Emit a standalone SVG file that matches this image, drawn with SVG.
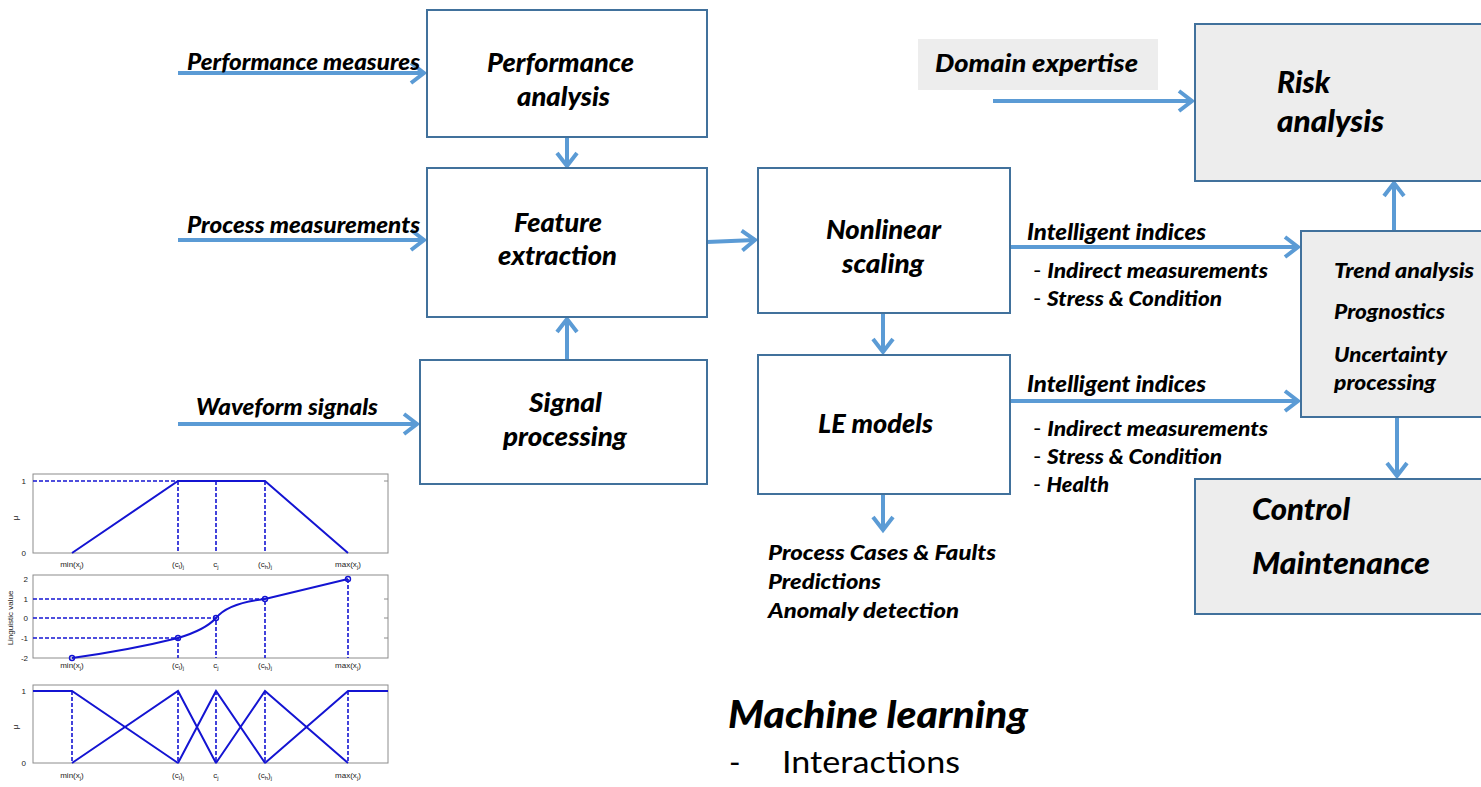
<svg xmlns="http://www.w3.org/2000/svg" width="1481" height="787" viewBox="0 0 1481 787">
  <defs>
    <style>
      .box { fill: #ffffff; stroke: #41719c; stroke-width: 2; }
      .gbox { fill: #ededed; stroke: #41719c; stroke-width: 2; }
      .lbl { font-family: Lato, "Liberation Sans", sans-serif; font-weight: 900; font-style: italic; fill: #000; }
      .plain { font-family: Lato, "Liberation Sans", sans-serif; fill: #000; }
      .conn { fill: none; stroke: #5b9bd5; stroke-width: 4; marker-end: url(#chev); }
      .axis { fill: none; stroke: #8c8c8c; stroke-width: 1; }
      .curve { fill: none; stroke: #1414d2; stroke-width: 2; }
      .dash { fill: none; stroke: #1414d2; stroke-width: 1.6; stroke-dasharray: 4 2; }
      .tick { font-family: "Liberation Sans", Arial, sans-serif; font-size: 8px; fill: #222; }
      .pt { fill: none; stroke: #1414d2; stroke-width: 1.4; }
      .dashmark { font-style: normal; font-weight: normal; }
    </style>
    <marker id="chev" markerUnits="userSpaceOnUse" markerWidth="22" markerHeight="26" viewBox="0 0 22 26" refX="16" refY="13" orient="auto">
      <path d="M3,3 L16,13 L3,23" fill="none" stroke="#5b9bd5" stroke-width="4"/>
    </marker>
  </defs>

  <!-- connectors -->
  <g id="connectors">
    <path class="conn" d="M178,73 H424"/>
    <path class="conn" d="M178,240 H424"/>
    <path class="conn" d="M178,424 H417"/>
    <path class="conn" d="M567,137 V166"/>
    <path class="conn" d="M567,360 V319"/>
    <path class="conn" d="M707,242 L755,240"/>
    <path class="conn" d="M883,313 V352"/>
    <path class="conn" d="M883,494 V530"/>
    <path class="conn" d="M1010,247 H1298"/>
    <path class="conn" d="M1010,401 H1298"/>
    <path class="conn" d="M1394,231 V183"/>
    <path class="conn" d="M1397,416 V476"/>
    <path class="conn" d="M993,101 H1192"/>
  </g>

  <!-- edge labels -->
  <g id="edge-labels">
    <text class="lbl" x="187" y="70" font-size="22.5" textLength="233" lengthAdjust="spacingAndGlyphs">Performance measures</text>
    <text class="lbl" x="187" y="233" font-size="22.5" textLength="233" lengthAdjust="spacingAndGlyphs">Process measurements</text>
    <text class="lbl" x="196" y="415" font-size="22.5" textLength="182" lengthAdjust="spacingAndGlyphs">Waveform signals</text>
    <text class="lbl" x="1027" y="240" font-size="22.5" textLength="179" lengthAdjust="spacingAndGlyphs">Intelligent indices</text>
    <text class="lbl" x="1033" y="278" font-size="20.5" textLength="235" lengthAdjust="spacingAndGlyphs"><tspan class="dashmark">- </tspan>Indirect measurements</text>
    <text class="lbl" x="1033" y="306" font-size="20.5" textLength="189" lengthAdjust="spacingAndGlyphs"><tspan class="dashmark">- </tspan>Stress &amp; Condition</text>
    <text class="lbl" x="1027" y="392" font-size="22.5" textLength="179" lengthAdjust="spacingAndGlyphs">Intelligent indices</text>
    <text class="lbl" x="1033" y="436" font-size="20.5" textLength="235" lengthAdjust="spacingAndGlyphs"><tspan class="dashmark">- </tspan>Indirect measurements</text>
    <text class="lbl" x="1033" y="464" font-size="20.5" textLength="189" lengthAdjust="spacingAndGlyphs"><tspan class="dashmark">- </tspan>Stress &amp; Condition</text>
    <text class="lbl" x="1033" y="492" font-size="20.5" textLength="76" lengthAdjust="spacingAndGlyphs"><tspan class="dashmark">- </tspan>Health</text>
  </g>

  <g id="performance-analysis">
    <rect class="box" x="427" y="10" width="280" height="127"/>
    <text class="lbl" x="487" y="72" font-size="26" textLength="147" lengthAdjust="spacingAndGlyphs">Performance</text>
    <text class="lbl" x="517" y="106" font-size="26" textLength="93" lengthAdjust="spacingAndGlyphs">analysis</text>
  </g>

  <g id="feature-extraction">
    <rect class="box" x="427" y="168" width="280" height="149"/>
    <text class="lbl" x="514" y="232" font-size="26" textLength="88" lengthAdjust="spacingAndGlyphs">Feature</text>
    <text class="lbl" x="498" y="265" font-size="26" textLength="119" lengthAdjust="spacingAndGlyphs">extraction</text>
  </g>

  <g id="signal-processing">
    <rect class="box" x="420" y="360" width="287" height="124"/>
    <text class="lbl" x="529" y="412" font-size="26" textLength="73" lengthAdjust="spacingAndGlyphs">Signal</text>
    <text class="lbl" x="503" y="446" font-size="26" textLength="124" lengthAdjust="spacingAndGlyphs">processing</text>
  </g>

  <g id="nonlinear-scaling">
    <rect class="box" x="758" y="168" width="252" height="145"/>
    <text class="lbl" x="826" y="239" font-size="26" textLength="115" lengthAdjust="spacingAndGlyphs">Nonlinear</text>
    <text class="lbl" x="842" y="273" font-size="26" textLength="82" lengthAdjust="spacingAndGlyphs">scaling</text>
  </g>

  <g id="le-models">
    <rect class="box" x="758" y="355" width="252" height="139"/>
    <text class="lbl" x="818" y="433" font-size="26" textLength="115" lengthAdjust="spacingAndGlyphs">LE models</text>
  </g>

  <g id="le-outputs">
    <text class="lbl" x="768" y="560" font-size="21.5" textLength="228" lengthAdjust="spacingAndGlyphs">Process Cases &amp; Faults</text>
    <text class="lbl" x="768" y="589" font-size="21.5" textLength="113" lengthAdjust="spacingAndGlyphs">Predictions</text>
    <text class="lbl" x="768" y="618" font-size="21.5" textLength="191" lengthAdjust="spacingAndGlyphs">Anomaly detection</text>
  </g>

  <g id="domain-expertise">
    <rect x="918" y="39" width="240" height="51" fill="#ededed"/>
    <text class="lbl" x="935" y="72" font-size="24" textLength="203" lengthAdjust="spacingAndGlyphs">Domain expertise</text>
  </g>

  <g id="risk-analysis">
    <rect class="gbox" x="1195" y="24" width="300" height="157"/>
    <text class="lbl" x="1277" y="93" font-size="30" textLength="53" lengthAdjust="spacingAndGlyphs">Risk</text>
    <text class="lbl" x="1277" y="132" font-size="30" textLength="107" lengthAdjust="spacingAndGlyphs">analysis</text>
  </g>

  <g id="trend-analysis">
    <rect class="gbox" x="1301" y="231" width="200" height="186"/>
    <text class="lbl" x="1334" y="278" font-size="21.5" textLength="140" lengthAdjust="spacingAndGlyphs">Trend analysis</text>
    <text class="lbl" x="1334" y="319" font-size="21.5" textLength="111" lengthAdjust="spacingAndGlyphs">Prognostics</text>
    <text class="lbl" x="1334" y="362" font-size="21.5" textLength="113" lengthAdjust="spacingAndGlyphs">Uncertainty</text>
    <text class="lbl" x="1334" y="390" font-size="21.5" textLength="102" lengthAdjust="spacingAndGlyphs">processing</text>
  </g>

  <g id="control-maintenance">
    <rect class="gbox" x="1195" y="479" width="300" height="135"/>
    <text class="lbl" x="1252" y="520" font-size="30.5" textLength="98" lengthAdjust="spacingAndGlyphs">Control</text>
    <text class="lbl" x="1252" y="574" font-size="30.5" textLength="178" lengthAdjust="spacingAndGlyphs">Maintenance</text>
  </g>

  <g id="machine-learning">
    <text class="lbl" x="728" y="728" font-size="38" textLength="300" lengthAdjust="spacingAndGlyphs">Machine learning</text>
    <text class="plain" x="729" y="773" font-size="31">-</text>
    <text class="plain" x="782" y="773" font-size="31" textLength="178" lengthAdjust="spacingAndGlyphs">Interactions</text>
  </g>

  <!-- membership function plots -->
  <g id="plot-membership">
    <rect class="axis" x="33" y="474" width="355" height="79"/>
    <path class="axis" d="M384,481 H388"/>
    <text class="tick" x="26" y="484" text-anchor="end">1</text>
    <text class="tick" x="26" y="556" text-anchor="end">0</text>
    <text class="tick" x="18" y="518" text-anchor="middle" transform="rotate(-90 18 518)">μ</text>
    <path class="dash" d="M33,481 H178 M178,481 V553 M216,481 V553 M265,481 V553"/>
    <path class="curve" d="M72,553 L178,481 L265,481 L348,553"/>
    <g class="tick" text-anchor="middle">
      <text x="72" y="567">min(x<tspan font-size="6" dy="2">j</tspan><tspan dy="-2">)</tspan></text>
      <text x="178" y="567">(c<tspan font-size="6" dy="2">l</tspan><tspan dy="-2">)</tspan><tspan font-size="6" dy="2">j</tspan></text>
      <text x="216" y="567">c<tspan font-size="6" dy="2">j</tspan></text>
      <text x="265" y="567">(c<tspan font-size="6" dy="2">h</tspan><tspan dy="-2">)</tspan><tspan font-size="6" dy="2">j</tspan></text>
      <text x="348" y="567">max(x<tspan font-size="6" dy="2">j</tspan><tspan dy="-2">)</tspan></text>
    </g>
  </g>

  <g id="plot-linguistic">
    <rect class="axis" x="33" y="575" width="355" height="83"/>
    <path class="axis" d="M384,599 H388 M384,618 H388 M384,638 H388"/>
    <g class="tick" text-anchor="end">
      <text x="28" y="582">2</text>
      <text x="28" y="602">1</text>
      <text x="28" y="621">0</text>
      <text x="28" y="641">-1</text>
      <text x="28" y="661">-2</text>
    </g>
    <text class="tick" x="13" y="618" text-anchor="middle" transform="rotate(-90 13 618)">Linguistic value</text>
    <path class="dash" d="M33,638 H178 V658 M33,618 H216 V658 M33,599 H265 V658 M348,579 V658"/>
    <path class="curve" d="M72,658 Q130,650 178,638 Q205,630 216,618 Q228,603 265,599 L348,579"/>
    <circle class="pt" cx="72" cy="658" r="2.5"/>
    <circle class="pt" cx="178" cy="638" r="2.5"/>
    <circle class="pt" cx="216" cy="618" r="2.5"/>
    <circle class="pt" cx="265" cy="599" r="2.5"/>
    <circle class="pt" cx="348" cy="579" r="2.5"/>
    <g class="tick" text-anchor="middle">
      <text x="72" y="668">min(x<tspan font-size="6" dy="2">j</tspan><tspan dy="-2">)</tspan></text>
      <text x="178" y="668">(c<tspan font-size="6" dy="2">l</tspan><tspan dy="-2">)</tspan><tspan font-size="6" dy="2">j</tspan></text>
      <text x="216" y="668">c<tspan font-size="6" dy="2">j</tspan></text>
      <text x="265" y="668">(c<tspan font-size="6" dy="2">h</tspan><tspan dy="-2">)</tspan><tspan font-size="6" dy="2">j</tspan></text>
      <text x="348" y="668">max(x<tspan font-size="6" dy="2">j</tspan><tspan dy="-2">)</tspan></text>
    </g>
  </g>

  <g id="plot-partition">
    <rect class="axis" x="33" y="685" width="355" height="78"/>
    <text class="tick" x="26" y="694" text-anchor="end">1</text>
    <text class="tick" x="26" y="766" text-anchor="end">0</text>
    <text class="tick" x="18" y="727" text-anchor="middle" transform="rotate(-90 18 727)">μ</text>
    <path class="dash" d="M72,691 V763 M178,691 V763 M216,691 V763 M265,691 V763 M348,691 V763"/>
    <path class="curve" d="M33,691 H72 L178,763 M72,763 L178,691 L216,763 M178,763 L216,691 L265,763 M216,763 L265,691 L348,763 M265,763 L348,691 H388"/>
    <g class="tick" text-anchor="middle">
      <text x="72" y="778">min(x<tspan font-size="6" dy="2">j</tspan><tspan dy="-2">)</tspan></text>
      <text x="178" y="778">(c<tspan font-size="6" dy="2">l</tspan><tspan dy="-2">)</tspan><tspan font-size="6" dy="2">j</tspan></text>
      <text x="216" y="778">c<tspan font-size="6" dy="2">j</tspan></text>
      <text x="265" y="778">(c<tspan font-size="6" dy="2">h</tspan><tspan dy="-2">)</tspan><tspan font-size="6" dy="2">j</tspan></text>
      <text x="348" y="778">max(x<tspan font-size="6" dy="2">j</tspan><tspan dy="-2">)</tspan></text>
    </g>
  </g>
</svg>
